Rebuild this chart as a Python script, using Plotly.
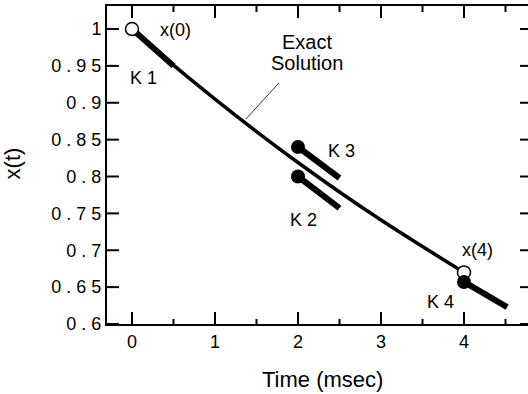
import plotly.graph_objects as go

# ---- data ----
t_exact = [0.0, 0.5, 1.0, 1.5, 2.0, 2.5, 3.0, 3.5, 4.0]
x_exact = [1.000, 0.951, 0.905, 0.861, 0.819, 0.779, 0.741, 0.705, 0.670]

k_labels = ["K 1", "K 2", "K 3", "K 4"]
k_t = [0.0, 2.0, 2.0, 4.0]
k_x = [1.000, 0.800, 0.840, 0.657]
k_t_end = [0.5, 2.5, 2.5, 4.52]
k_x_end = [0.950, 0.757, 0.798, 0.623]

open_t = [0.0, 4.0]
open_x = [1.000, 0.670]
open_labels = ["x(0)", "x(4)"]

y_tickvals = [0.6, 0.65, 0.7, 0.75, 0.8, 0.85, 0.9, 0.95, 1.0]
y_ticktext = ["0 . 6", "0 . 6 5", "0 . 7", "0 . 7 5", "0 . 8", "0 . 8 5", "0 . 9", "0 . 9 5", "1"]
x_tickvals = [0, 1, 2, 3, 4]
x_minorvals = [0.5, 1.5, 2.5, 3.5, 4.5]

FONT = "Liberation Sans, Arial, Helvetica, sans-serif"
CLEAR = "rgba(0,0,0,0)"

fig = go.Figure()

fig.add_trace(go.Scatter(x=t_exact, y=x_exact, mode="lines",
                         line=dict(color="black", width=3.5, shape="spline"),
                         showlegend=False, hoverinfo="skip"))

for i in range(len(k_t)):
    fig.add_trace(go.Scatter(x=[k_t[i], k_t_end[i]], y=[k_x[i], k_x_end[i]],
                             mode="lines", line=dict(color="black", width=6),
                             showlegend=False, hoverinfo="skip"))

fig.add_trace(go.Scatter(x=open_t, y=open_x, mode="markers",
                         marker=dict(symbol="circle", size=13, color="white",
                                     line=dict(color="black", width=1.5)),
                         showlegend=False, hoverinfo="skip"))

fig.add_trace(go.Scatter(x=k_t[1:], y=k_x[1:], mode="markers",
                         marker=dict(symbol="circle", size=14, color="black"),
                         showlegend=False, hoverinfo="skip"))

label_pos = {
    "x(0)": (0.530, 0.9986),
    "x(4)": (4.157, 0.7003),
    "K 1": (0.133, 0.9342),
    "K 2": (2.072, 0.741),
    "K 3": (2.530, 0.8346),
    "K 4": (3.711, 0.6298),
}
for txt, (ax, ay) in label_pos.items():
    fig.add_annotation(x=ax, y=ay, xref="x", yref="y", text=txt, showarrow=False,
                       font=dict(family=FONT, size=18, color="black"),
                       xanchor="center", yanchor="middle")

fig.add_annotation(x=2.108, y=0.9824, xref="x", yref="y", text="Exact", showarrow=False,
                   font=dict(family=FONT, size=20, color="black"),
                   xanchor="center", yanchor="middle")
fig.add_annotation(x=2.108, y=0.9539, xref="x", yref="y", text="Solution", showarrow=False,
                   font=dict(family=FONT, size=20, color="black"),
                   xanchor="center", yanchor="middle")
fig.add_shape(type="line", xref="x", yref="y", x0=1.771, y0=0.927, x1=1.373, y1=0.878,
              line=dict(color="#333333", width=1))

fig.add_annotation(x=-0.2257, y=0.505, xref="paper", yref="paper", text="x(t)",
                   textangle=-90, showarrow=False, xanchor="center", yanchor="middle",
                   font=dict(family=FONT, size=22, color="black"))
fig.add_annotation(x=0.511, y=-0.176, xref="paper", yref="paper", text="Time (msec)",
                   showarrow=False, xanchor="center", yanchor="middle",
                   font=dict(family=FONT, size=22, color="black"))

# tick marks (inside, on all four sides) placed on the axis scales
TICK = dict(color="black", width=2)
for v in x_tickvals:
    fig.add_shape(type="line", xref="x", x0=v, x1=v, yref="paper", ysizemode="pixel",
                  yanchor=0, y0=0, y1=12, line=TICK)
    fig.add_shape(type="line", xref="x", x0=v, x1=v, yref="paper", ysizemode="pixel",
                  yanchor=1, y0=0, y1=-12, line=TICK)
for v in x_minorvals:
    fig.add_shape(type="line", xref="x", x0=v, x1=v, yref="paper", ysizemode="pixel",
                  yanchor=0, y0=0, y1=5, line=TICK)
    fig.add_shape(type="line", xref="x", x0=v, x1=v, yref="paper", ysizemode="pixel",
                  yanchor=1, y0=0, y1=-6, line=TICK)
for v in y_tickvals:
    fig.add_shape(type="line", yref="y", y0=v, y1=v, xref="paper", xsizemode="pixel",
                  xanchor=0, x0=0, x1=12, line=TICK)
    fig.add_shape(type="line", yref="y", y0=v, y1=v, xref="paper", xsizemode="pixel",
                  xanchor=1, x0=0, x1=-8, line=TICK)

fig.update_layout(
    width=528, height=394,
    margin=dict(l=107, r=0, t=6, b=70),
    plot_bgcolor="white",
    showlegend=False,
    font=dict(family=FONT, size=18, color="black"),
    xaxis=dict(range=[-0.301, 4.771], tickvals=x_tickvals,
               ticks="", showline=True, linewidth=2, linecolor="black", mirror=True,
               gridcolor=CLEAR, zerolinecolor=CLEAR),
    yaxis=dict(range=[0.6, 1.0312], tickvals=y_tickvals, ticktext=y_ticktext,
               ticks="", showline=True, linewidth=2, linecolor="black",
               gridcolor=CLEAR, zerolinecolor=CLEAR),
)

fig.write_html("out.html")
